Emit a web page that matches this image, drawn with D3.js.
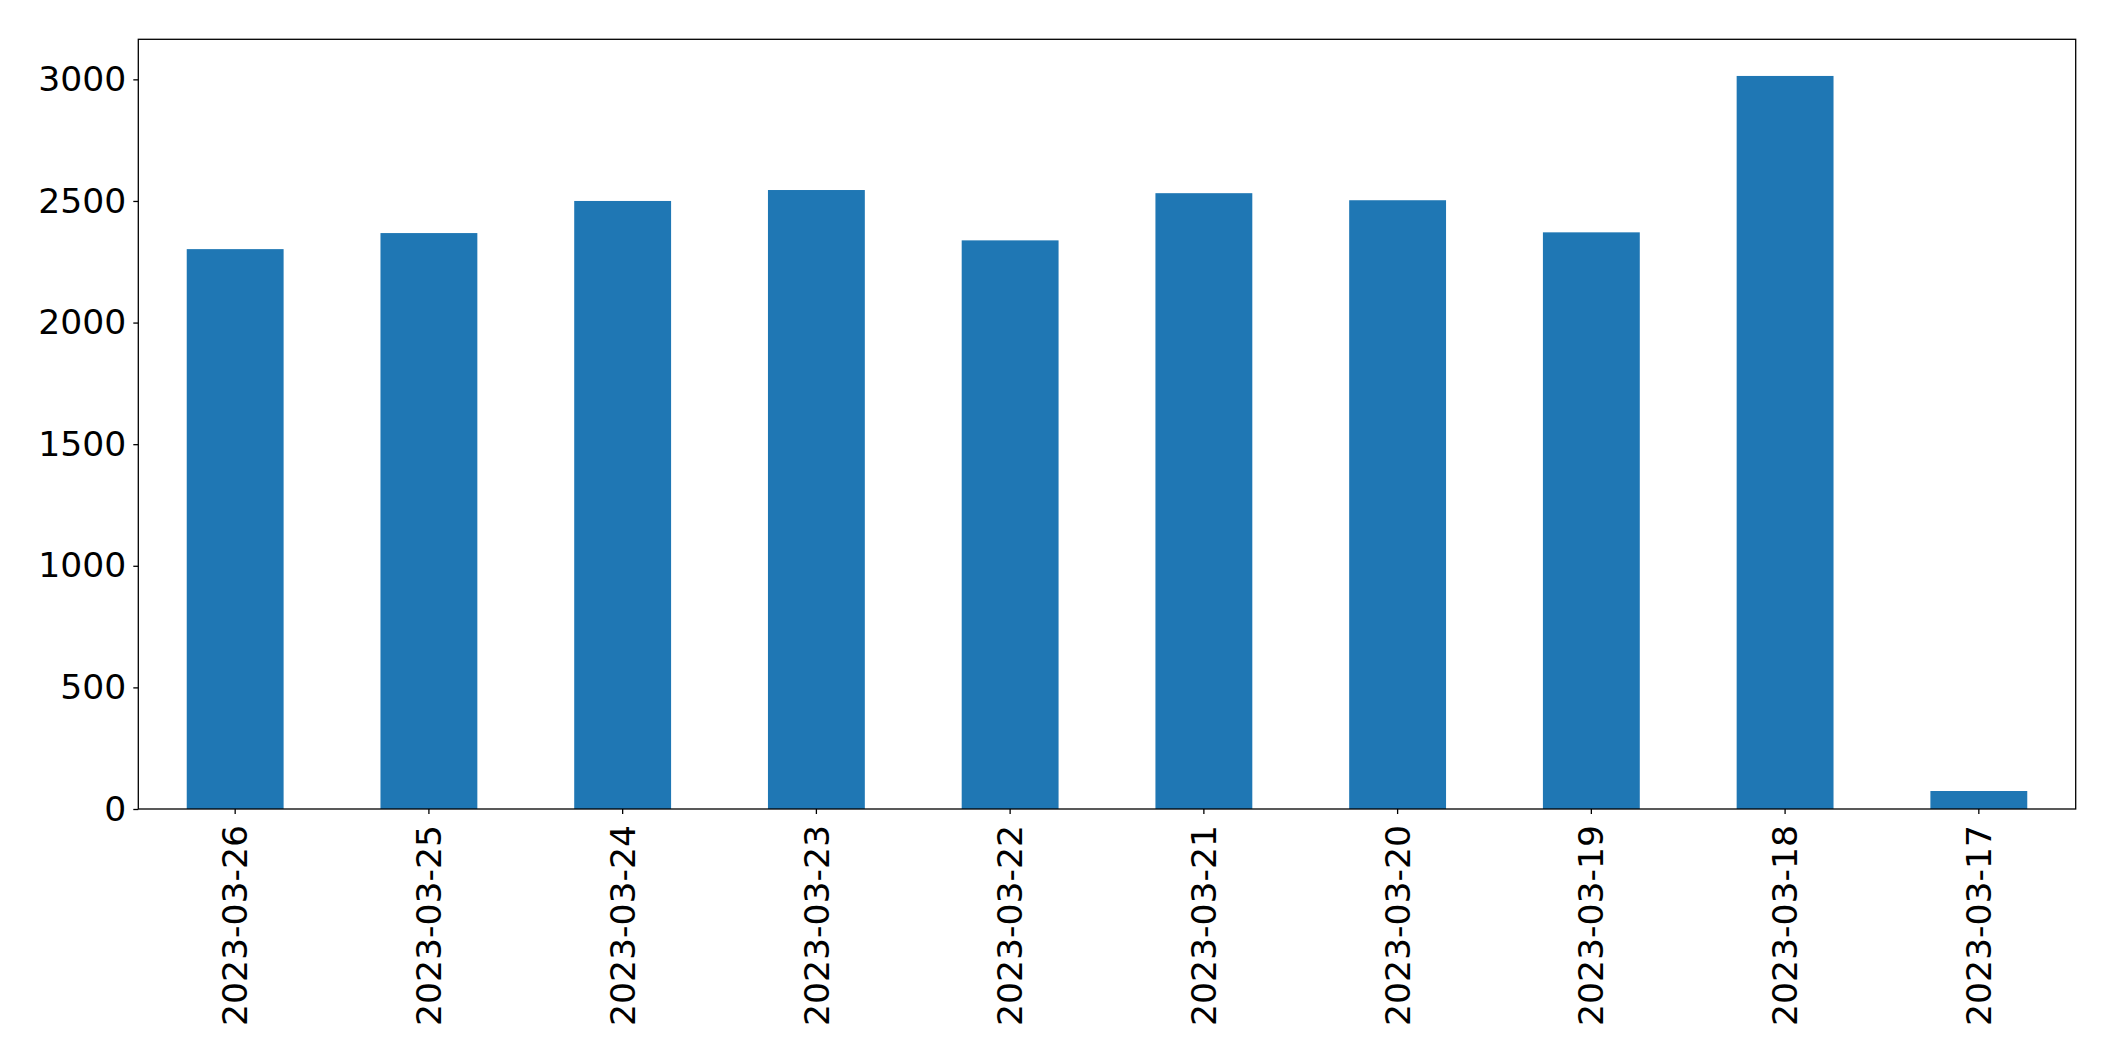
<!DOCTYPE html>
<html>
<head>
<meta charset="utf-8">
<script src="https://cdn.jsdelivr.net/npm/d3@7/dist/d3.min.js"></script>
<style>
  html, body { margin: 0; padding: 0; background: #fff; }
  svg { display: block; }
  text { font-family: "DejaVu Sans", sans-serif; fill: #000; }
</style>
</head>
<body>
<svg id="chart" width="2115" height="1061"></svg>
<script>
const categories = ["2023-03-26", "2023-03-25", "2023-03-24", "2023-03-23", "2023-03-22",
                    "2023-03-21", "2023-03-20", "2023-03-19", "2023-03-18", "2023-03-17"];
const values = [2302, 2368, 2500, 2545, 2338, 2532, 2503, 2371, 3014, 74];
const yTicks = [0, 500, 1000, 1500, 2000, 2500, 3000];

const W = 2115, H = 1061;
const margin = { left: 138.3, right: W - 2075.7, top: 39.3, bottom: H - 809 };
const svg = d3.select("#chart");
const iw = W - margin.left - margin.right;
const ih = H - margin.top - margin.bottom;
const g = svg.append("g").attr("transform", `translate(${margin.left},${margin.top})`);

const x = d3.scaleBand().domain(categories).range([0, iw]).paddingInner(0.5).paddingOuter(0.25);
const y = d3.scaleLinear().domain([0, d3.max(values) * 1.05]).range([ih, 0]);

g.selectAll("rect.bar").data(values).enter().append("rect")
  .attr("class", "bar")
  .attr("x", (d, i) => x(categories[i]))
  .attr("width", x.bandwidth())
  .attr("y", d => y(d))
  .attr("height", d => y(0) - y(d))
  .attr("fill", "#1f77b4");

const fs = 34.6;
const yAxis = g.append("g")
  .call(d3.axisLeft(y).tickValues(yTicks).tickSize(5).tickPadding(7).tickFormat(d3.format("d")));
yAxis.select(".domain").remove();
yAxis.selectAll("line").attr("stroke", "#000").attr("stroke-width", 1.3);
yAxis.selectAll("text").style("font-size", fs + "px").style("font-family", "DejaVu Sans").attr("fill", "#000");

const xAxis = g.append("g").attr("transform", `translate(0,${ih})`)
  .call(d3.axisBottom(x).tickSize(5).tickPadding(7));
xAxis.select(".domain").remove();
xAxis.selectAll("line").attr("stroke", "#000").attr("stroke-width", 1.3);
xAxis.selectAll("text")
  .style("font-size", fs + "px").style("font-family", "DejaVu Sans").attr("fill", "#000")
  .attr("transform", "rotate(-90)")
  .attr("x", -16).attr("y", 0).attr("dy", "0.35em")
  .attr("text-anchor", "end");

g.append("rect").attr("x", 0).attr("y", 0).attr("width", iw).attr("height", ih)
  .attr("fill", "none").attr("stroke", "#000").attr("stroke-width", 1.3);
</script>
</body>
</html>
